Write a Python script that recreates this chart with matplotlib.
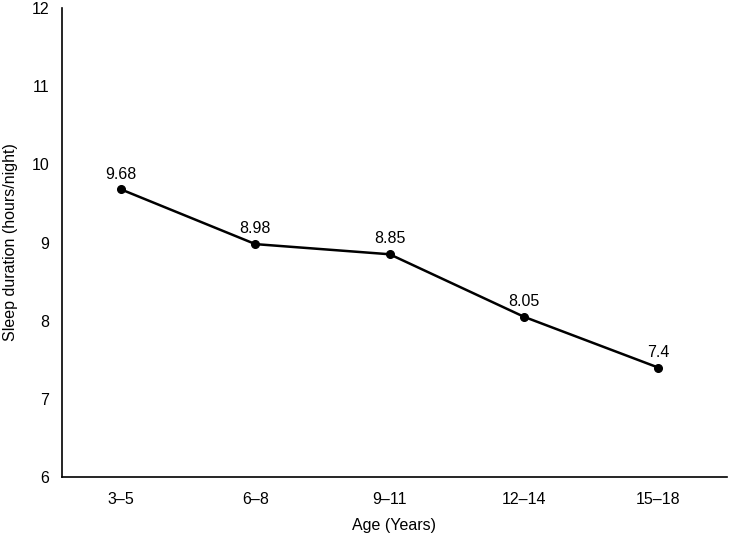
import matplotlib
matplotlib.use("Agg")
import matplotlib.pyplot as plt

categories = ["3–5", "6–8", "9–11", "12–14", "15–18"]
sleep = [9.68, 8.98, 8.85, 8.05, 7.4]
labels = ["9.68", "8.98", "8.85", "8.05", "7.4"]

plt.rcParams['font.family'] = ['Liberation Sans', 'DejaVu Sans']
FS = 11.5

fig = plt.figure(figsize=(7.29, 5.39), dpi=100)
ax = fig.add_axes([0.085, 0.115, 0.912, 0.87])
x = list(range(len(categories)))
ax.plot(x, sleep, color='black', lw=1.8, marker='o', markersize=5.5)
for xi, yi, lab in zip(x, sleep, labels):
    ax.annotate(lab, (xi, yi), xytext=(0, 11), textcoords='offset points',
                ha='center', va='center', fontsize=FS)
ax.set_xlim(-0.44, 4.51)
ax.set_ylim(6, 12)
ax.set_yticks(range(6, 13))
ax.set_xticks(x)
ax.set_xticklabels(categories)
ax.tick_params(length=0, labelsize=FS)
ax.tick_params(axis='x', pad=11)
ax.tick_params(axis='y', pad=9)
for s in ['top', 'right']:
    ax.spines[s].set_visible(False)
for s in ['left', 'bottom']:
    ax.spines[s].set_linewidth(1.2)
ax.set_xlabel("Age (Years)", fontsize=FS, labelpad=8)
ax.set_ylabel("Sleep duration (hours/night)", fontsize=FS, labelpad=10)
fig.savefig("out.png", dpi=100)
